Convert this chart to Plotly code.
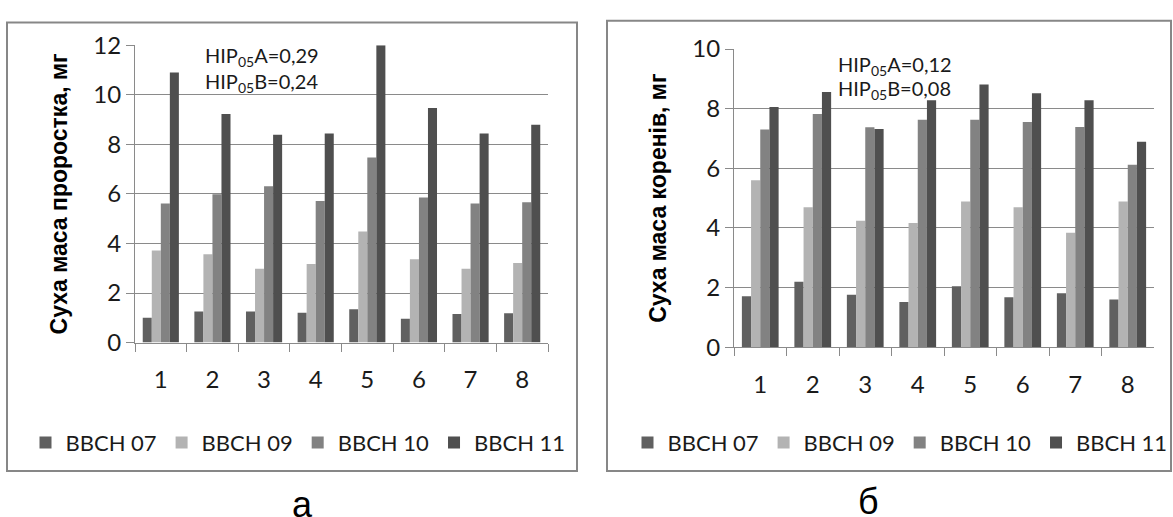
import plotly.graph_objects as go

W, H = 1173, 517

categories = ["1", "2", "3", "4", "5", "6", "7", "8"]
series_names = ["BBCH 07", "BBCH 09", "BBCH 10", "BBCH 11"]

# chart а: dry mass of seedling, mg
shoot_07 = [1.00, 1.25, 1.25, 1.20, 1.35, 0.96, 1.15, 1.18]
shoot_09 = [3.72, 3.57, 2.98, 3.17, 4.48, 3.36, 2.98, 3.21]
shoot_10 = [5.61, 5.99, 6.31, 5.71, 7.47, 5.86, 5.61, 5.66]
shoot_11 = [10.90, 9.23, 8.39, 8.44, 12.00, 9.47, 8.44, 8.79]

# chart б: dry mass of roots, mg
root_07 = [1.71, 2.20, 1.76, 1.52, 2.05, 1.68, 1.81, 1.60]
root_09 = [5.60, 4.70, 4.24, 4.17, 4.89, 4.70, 3.84, 4.89]
root_10 = [7.30, 7.82, 7.38, 7.63, 7.63, 7.55, 7.39, 6.12]
root_11 = [8.06, 8.56, 7.32, 8.28, 8.81, 8.52, 8.28, 6.89]

colors = ["#606060", "#b3b3b3", "#828282", "#4f4f4f"]

left_title = "Суха маса проростка, мг"
right_title = "Суха маса коренів, мг"
left_note = ["HIP<sub>05</sub>A=0,29", "HIP<sub>05</sub>B=0,24"]
right_note = ["HIP<sub>05</sub>A=0,12", "HIP<sub>05</sub>B=0,08"]

TICK_FONT = dict(family="Lato, Carlito, Calibri, sans-serif", size=24, color="#1a1a1a")
LEG_FONT = dict(family="Lato, Carlito, Calibri, sans-serif", size=22, color="#1a1a1a")
GRID = "#8a8a8a"

fig = go.Figure()

for name, vals, col in zip(series_names, [shoot_07, shoot_09, shoot_10, shoot_11], colors):
    fig.add_trace(go.Bar(x=categories, y=vals, name=name, marker=dict(color=col, line=dict(width=0)),
                         xaxis="x", yaxis="y", legend="legend"))
for name, vals, col in zip(series_names, [root_07, root_09, root_10, root_11], colors):
    fig.add_trace(go.Bar(x=categories, y=vals, name=name, marker=dict(color=col, line=dict(width=0)),
                         xaxis="x2", yaxis="y2", legend="legend2"))

def px_x(p):
    return p / W

def px_y(p):
    return 1 - p / H

axis_common_x = dict(type="category", showline=True, linecolor=GRID, linewidth=1,
                     ticks="outside", ticklen=8, tickcolor=GRID, tickson="boundaries",
                     showgrid=False, tickfont=TICK_FONT, ticklabelstandoff=16, fixedrange=True)
axis_common_y = dict(showline=True, linecolor=GRID, linewidth=1, ticks="outside", ticklen=8,
                     tickcolor=GRID, showgrid=True, gridcolor=GRID, gridwidth=1, zeroline=False,
                     dtick=2, tickfont=TICK_FONT, fixedrange=True)

TITLE_FONT = dict(family="Liberation Sans, Arial, sans-serif", size=23, color="black", weight="bold")

fig.update_layout(
    width=W, height=H,
    margin=dict(l=0, r=0, t=0, b=0),
    paper_bgcolor="white", plot_bgcolor="white",
    barmode="group", bargap=0.30, bargroupgap=0.0,
    xaxis=dict(domain=[px_x(135), px_x(548)], anchor="y", **axis_common_x),
    yaxis=dict(domain=[px_y(346), px_y(31)], anchor="x", range=[0, 12],
               title=dict(text=left_title, standoff=19, font=TITLE_FONT),
               **axis_common_y),
    xaxis2=dict(domain=[px_x(734), px_x(1154)], anchor="y2", **axis_common_x),
    yaxis2=dict(domain=[px_y(351), px_y(35)], anchor="x2", range=[0, 10],
                title=dict(text=right_title, standoff=19, font=TITLE_FONT),
                **axis_common_y),
    legend=dict(orientation="h", x=px_x(298), xanchor="center", y=px_y(452), yanchor="middle",
                font=LEG_FONT, itemwidth=30, bgcolor="rgba(0,0,0,0)"),
    legend2=dict(orientation="h", x=px_x(900), xanchor="center", y=px_y(452), yanchor="middle",
                 font=LEG_FONT, itemwidth=30, bgcolor="rgba(0,0,0,0)"),
    showlegend=True,
)

# panel frames
fig.add_shape(type="rect", xref="paper", yref="paper", x0=px_x(7), x1=px_x(577), y0=px_y(482), y1=px_y(7),
              line=dict(color="#878787", width=2), layer="below")
fig.add_shape(type="rect", xref="paper", yref="paper", x0=px_x(607), x1=px_x(1171), y0=px_y(482), y1=px_y(5),
              line=dict(color="#878787", width=2), layer="below")

NOTE_FONT = dict(family="Lato, Carlito, Calibri, sans-serif", size=20, color="#1a1a1a")
for i, t in enumerate(left_note):
    fig.add_annotation(xref="paper", yref="paper", x=px_x(203), y=px_y(43 + 27 * i), text=t,
                       showarrow=False, xanchor="left", yanchor="middle", font=NOTE_FONT)
for i, t in enumerate(right_note):
    fig.add_annotation(xref="paper", yref="paper", x=px_x(836), y=px_y(52 + 26 * i), text=t,
                       showarrow=False, xanchor="left", yanchor="middle", font=NOTE_FONT)

LABEL_FONT = dict(family="Liberation Sans, Arial, sans-serif", size=36, color="black")
fig.add_annotation(xref="paper", yref="paper", x=px_x(302), y=px_y(518), text="а",
                   showarrow=False, xanchor="center", yanchor="middle", font=LABEL_FONT)
fig.add_annotation(xref="paper", yref="paper", x=px_x(868), y=px_y(514), text="б",
                   showarrow=False, xanchor="center", yanchor="middle", font=LABEL_FONT)

fig.write_html("out.html")
